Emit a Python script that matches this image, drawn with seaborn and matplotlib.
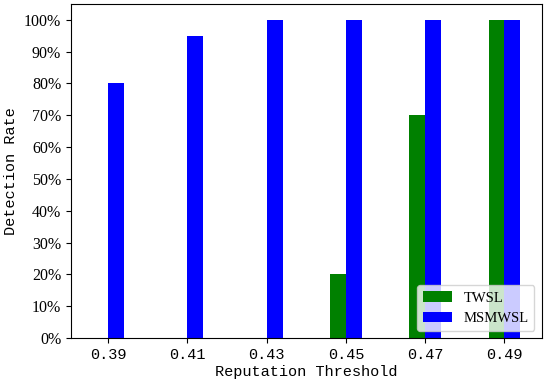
import matplotlib
matplotlib.use('Agg')
import matplotlib.pyplot as plt
import pandas as pd
import seaborn as sns
from matplotlib.ticker import PercentFormatter

thresholds = [0.39, 0.41, 0.43, 0.45, 0.47, 0.49]
twsl = [0, 0, 0, 20, 70, 100]
msmwsl = [80, 95, 100, 100, 100, 100]
methods = ['TWSL', 'MSMWSL']
colors = ['green', 'blue']

df = pd.DataFrame({
    'Threshold': thresholds + thresholds,
    'Rate': twsl + msmwsl,
    'Method': [methods[0]] * len(thresholds) + [methods[1]] * len(thresholds),
})

mono = 'Liberation Mono'
serif = 'Liberation Serif'

fig = plt.figure(figsize=(5.5, 3.86), dpi=100)
ax = fig.add_axes([0.129, 0.124, 0.856, 0.866])

sns.barplot(data=df, x='Threshold', y='Rate', hue='Method', native_scale=True,
            width=0.4, palette=colors, saturation=1, errorbar=None, linewidth=0,
            dodge=True, ax=ax)

ax.set_xticks(thresholds)
ax.set_xticklabels([f'{t:.2f}' for t in thresholds], family=mono, fontsize=11)
ax.set_yticks(range(0, 101, 10))
ax.yaxis.set_major_formatter(PercentFormatter(100, decimals=0))
for lbl in ax.get_yticklabels():
    lbl.set_family(serif)
    lbl.set_fontsize(11.5)

ax.set_xlabel('Reputation Threshold', family=mono, fontsize=11, labelpad=2)
ax.set_ylabel('Detection Rate', family=mono, fontsize=11)

ax.legend(loc='lower right', prop={'family': serif, 'size': 10.5})

fig.savefig('out.png', dpi=100)
